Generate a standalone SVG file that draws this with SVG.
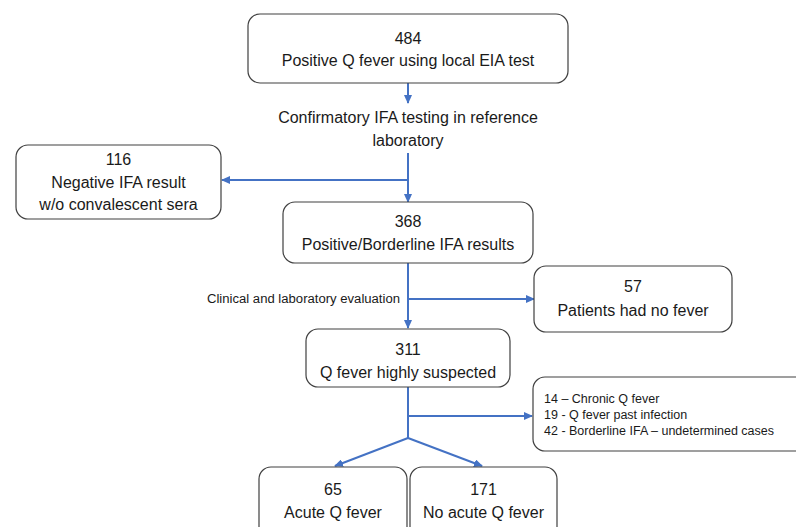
<svg xmlns="http://www.w3.org/2000/svg" width="796" height="527" viewBox="0 0 796 527">
<style>
.box{fill:#ffffff;stroke:#404040;stroke-width:1.2}
.t{font-family:"Liberation Sans",Arial,sans-serif;font-size:16px;fill:#1a1a1a;text-anchor:middle}
.s{font-family:"Liberation Sans",Arial,sans-serif;font-size:12.5px;fill:#1a1a1a}
.c{stroke:#4472C4;stroke-width:2;fill:none}
</style>
<defs>
<marker id="ah" markerUnits="userSpaceOnUse" markerWidth="9" markerHeight="8" refX="8" refY="4" orient="auto">
<path d="M0,0 L9,4 L0,8 Z" fill="#4472C4"/>
</marker>
</defs>
<rect width="796" height="527" fill="#ffffff"/>
<g id="connectors">
<line class="c" x1="408" y1="83" x2="408" y2="103" marker-end="url(#ah)"/>
<line class="c" x1="408" y1="153" x2="408" y2="202" marker-end="url(#ah)"/>
<line class="c" x1="408" y1="180" x2="222" y2="180" marker-end="url(#ah)"/>
<line class="c" x1="408" y1="263" x2="408" y2="328" marker-end="url(#ah)"/>
<line class="c" x1="408" y1="299" x2="534" y2="299" marker-end="url(#ah)"/>
<line class="c" x1="408" y1="387" x2="408" y2="439"/>
<line class="c" x1="408" y1="416" x2="532" y2="416" marker-end="url(#ah)"/>
<line class="c" x1="408" y1="438" x2="335" y2="466" marker-end="url(#ah)"/>
<line class="c" x1="408" y1="438" x2="482" y2="466" marker-end="url(#ah)"/>
</g>
<g id="n484">
<rect class="box" x="248" y="14" width="320" height="69" rx="12"/>
<text class="t" x="408" y="44">484</text>
<text class="t" x="408" y="66">Positive Q fever using local EIA test</text>
</g>
<g id="confirm">
<text class="t" x="408" y="123">Confirmatory IFA testing in reference</text>
<text class="t" x="408" y="146">laboratory</text>
</g>
<g id="n116">
<rect class="box" x="16" y="145" width="205" height="74" rx="12"/>
<text class="t" x="118.5" y="165">116</text>
<text class="t" x="118.5" y="188">Negative IFA result</text>
<text class="t" x="118.5" y="210">w/o convalescent sera</text>
</g>
<g id="n368">
<rect class="box" x="283" y="202" width="250" height="61" rx="12"/>
<text class="t" x="408" y="227">368</text>
<text class="t" x="408" y="250">Positive/Borderline IFA results</text>
</g>
<g id="eval">
<text class="s" x="207" y="303" style="font-size:12px" textLength="193" lengthAdjust="spacingAndGlyphs">Clinical and laboratory evaluation</text>
</g>
<g id="n57">
<rect class="box" x="534" y="266" width="198" height="66" rx="12"/>
<text class="t" x="633" y="292">57</text>
<text class="t" x="633" y="316">Patients had no fever</text>
</g>
<g id="n311">
<rect class="box" x="306" y="329" width="204" height="58" rx="12"/>
<text class="t" x="408" y="355">311</text>
<text class="t" x="408" y="378">Q fever highly suspected</text>
</g>
<g id="nother">
<rect class="box" x="533" y="377" width="280" height="74" rx="12"/>
<text class="s" x="544" y="403">14 – Chronic Q fever</text>
<text class="s" x="544" y="419">19 - Q fever past infection</text>
<text class="s" x="544" y="435">42 - Borderline IFA – undetermined cases</text>
</g>
<g id="n65">
<rect class="box" x="259" y="467" width="148" height="80" rx="12"/>
<text class="t" x="333" y="495">65</text>
<text class="t" x="333" y="518">Acute Q fever</text>
</g>
<g id="n171">
<rect class="box" x="410" y="467" width="147" height="80" rx="12"/>
<text class="t" x="483.5" y="495">171</text>
<text class="t" x="483.5" y="518">No acute Q fever</text>
</g>
</svg>
